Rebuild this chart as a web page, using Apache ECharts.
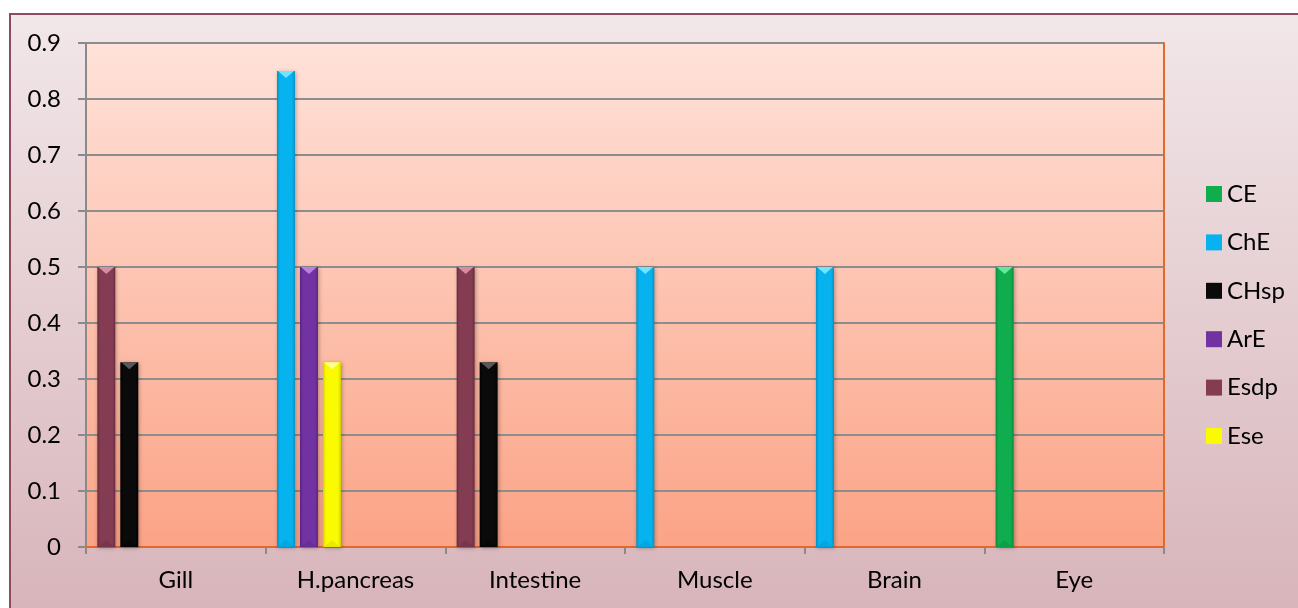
<!DOCTYPE html>
<html>
<head>
<meta charset="utf-8">
<style>
  html, body { margin: 0; padding: 0; background: #ffffff; }
  #chart { width: 1298px; height: 608px; }
</style>
<script src="https://cdn.jsdelivr.net/npm/echarts@6/dist/echarts.min.js"></script>
</head>
<body>
<div id="chart"></div>
<script>
// Tissues on the category axis
const categories = ['Gill', 'H.pancreas', 'Intestine', 'Muscle', 'Brain', 'Eye'];

// Enzyme activity per tissue (null = not detected)
const CE   = [null, null, null, null, null, 0.5];
const ChE  = [null, 0.85, null, 0.5, 0.5, null];
const CHsp = [0.33, null, 0.33, null, null, null];
const ArE  = [null, 0.5, null, null, null, null];
const Esdp = [0.5, null, 0.5, null, null, null];
const Ese  = [null, 0.33, null, null, null, null];

const yTicks = [0, 0.1, 0.2, 0.3, 0.4, 0.5, 0.6, 0.7, 0.8, 0.9];

// Series in legend order
const seriesNames = ['CE', 'ChE', 'CHsp', 'ArE', 'Esdp', 'Ese'];
const seriesValues = [CE, ChE, CHsp, ArE, Esdp, Ese];

// Order in which present bars are packed from the left of each category
const packOrder = ['CE', 'ChE', 'Esdp', 'ArE', 'CHsp', 'Ese'];

// Bevel colours: body, highlight facet, shaded edge
const palette = {
  CE:   { base: '#10ad4e', light: '#6af0a4', dark: '#0a8a3e' },
  ChE:  { base: '#06b3ee', light: '#7eeaff', dark: '#0490c4' },
  CHsp: { base: '#0a0a0a', light: '#606060', dark: '#000000' },
  ArE:  { base: '#7232a2', light: '#c08ae8', dark: '#5a2284' },
  Esdp: { base: '#843c52', light: '#e096aa', dark: '#6a2c40' },
  Ese:  { base: '#fafa00', light: '#ffffa0', dark: '#d0d000' }
};

const FONT = 'Lato';
const FONT_SIZE = 24;

// Slot of each bar within its category: present values packed from the left
function slotOf(name, catIdx) {
  let slot = 0;
  for (const n of packOrder) {
    if (n === name) return slot;
    if (seriesValues[seriesNames.indexOf(n)][catIdx] != null) slot++;
  }
  return slot;
}

function renderBevelBar(params, api) {
  const cat = api.value(0);
  const val = api.value(1);
  const slot = api.value(2);
  const band = api.size([1, 0])[0];
  const centre = api.coord([cat, 0]);
  const top = api.coord([cat, val]);
  const left = centre[0] - band / 2;
  const w = band * 0.1;
  const x = left + band * 0.063 + slot * band * 0.128;
  const y = top[1];
  const h = centre[1] - top[1];
  const c = palette[params.seriesName];
  const facet = Math.min(7, h / 2);
  return {
    type: 'group',
    children: [
      {
        type: 'rect',
        shape: { x: x, y: y, width: w, height: h },
        style: {
          fill: {
            type: 'linear', x: 0, y: 0, x2: 1, y2: 0,
            colorStops: [
              { offset: 0, color: c.dark },
              { offset: 0.16, color: c.base },
              { offset: 0.84, color: c.base },
              { offset: 1, color: c.dark }
            ]
          },
          shadowBlur: 4,
          shadowOffsetX: 1,
          shadowOffsetY: 1,
          shadowColor: 'rgba(0,0,0,0.3)'
        }
      },
      {
        type: 'polygon',
        shape: { points: [[x + 1, y], [x + w - 1, y], [x + w / 2, y + facet]] },
        style: { fill: c.light, opacity: 0.9 }
      },
      {
        type: 'polygon',
        shape: { points: [[x + 1, y + h], [x + w - 1, y + h], [x + w / 2, y + h - facet]] },
        style: { fill: c.dark, opacity: 0.4 }
      }
    ]
  };
}

const series = seriesNames.map((name, si) => ({
  name: name,
  type: 'custom',
  renderItem: renderBevelBar,
  itemStyle: { color: palette[name].base },
  encode: { x: 0, y: 1 },
  data: seriesValues[si]
    .map((v, ci) => (v == null ? null : [ci, v, slotOf(name, ci)]))
    .filter(d => d !== null),
  z: 5
}));

const chart = echarts.init(document.getElementById('chart'), null, { renderer: 'canvas' });

chart.setOption({
  animation: false,
  backgroundColor: '#ffffff',
  textStyle: { fontFamily: FONT },
  graphic: [
    {
      type: 'rect',
      z: -10,
      left: 9,
      top: 13,
      shape: { width: 1300, height: 600 },
      style: {
        fill: {
          type: 'linear', x: 0, y: 0, x2: 0, y2: 1,
          colorStops: [
            { offset: 0, color: '#f2e7e9' },
            { offset: 1, color: '#d7b4ba' }
          ]
        },
        stroke: '#8c4b5e',
        lineWidth: 2
      }
    }
  ],
  grid: {
    left: 86,
    right: 134,
    top: 43,
    bottom: 61,
    show: true,
    borderWidth: 0,
    backgroundColor: {
      type: 'linear', x: 0, y: 0, x2: 0, y2: 1,
      colorStops: [
        { offset: 0, color: '#ffe2d9' },
        { offset: 1, color: '#fba386' }
      ]
    }
  },
  legend: {
    orient: 'vertical',
    left: 1206,
    top: 182,
    padding: 0,
    itemWidth: 16,
    itemHeight: 16,
    itemGap: 24.4,
    icon: 'rect',
    data: seriesNames,
    textStyle: { fontFamily: FONT, fontSize: FONT_SIZE, color: '#000', lineHeight: 24 }
  },
  xAxis: [
    {
      type: 'category',
      data: categories,
      boundaryGap: true,
      axisLine: { lineStyle: { color: '#8a8a8a', width: 2 } },
      axisTick: { show: true, length: 7, lineStyle: { color: '#8a8a8a', width: 2 } },
      axisLabel: { fontFamily: FONT, fontSize: FONT_SIZE, color: '#000', margin: 21 },
      splitLine: { show: false }
    },
    {
      type: 'category',
      position: 'top',
      data: categories,
      axisLine: { lineStyle: { color: '#e3692a', width: 2 } },
      axisTick: { show: false },
      axisLabel: { show: false }
    }
  ],
  yAxis: [
    {
      type: 'value',
      min: 0,
      max: 0.9,
      interval: 0.1,
      axisLine: { show: true, lineStyle: { color: '#8a8a8a', width: 2 } },
      axisTick: { show: true, length: 8, lineStyle: { color: '#8a8a8a', width: 2 } },
      axisLabel: {
        fontFamily: FONT, fontSize: FONT_SIZE, color: '#000', margin: 25,
        formatter: v => {
          const t = yTicks.find(k => Math.abs(k - v) < 1e-9);
          return t === undefined ? '' : String(t);
        }
      },
      splitLine: { show: true, lineStyle: { color: '#8d8d8d', width: 2 } }
    },
    {
      type: 'value',
      position: 'right',
      min: 0,
      max: 0.9,
      interval: 0.1,
      axisLine: { show: true, lineStyle: { color: '#e3692a', width: 2 } },
      axisTick: { show: false },
      axisLabel: { show: false },
      splitLine: { show: false }
    }
  ],
  series: series
});
</script>
</body>
</html>
